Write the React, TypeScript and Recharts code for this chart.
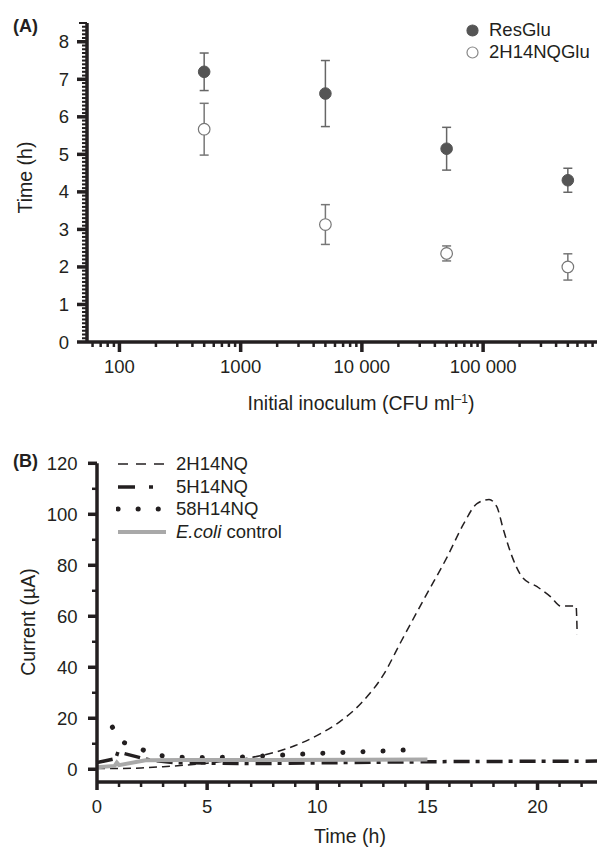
import React from 'react'
import { ScatterChart, Scatter, LineChart, Line, XAxis, YAxis, ErrorBar, Legend } from 'recharts'

const FONT = '"Liberation Sans", Arial, Helvetica, sans-serif'
const INK = '#231f20'

// ---- panel A: time to detection vs inoculum ----
const inoculum = [500, 5000, 50000, 500000]
const resGluTime = [7.2, 6.62, 5.15, 4.31]
const resGluErr = [0.5, 0.88, 0.57, 0.32]
const nqGluTime = [5.67, 3.13, 2.36, 2.0]
const nqGluErr = [0.69, 0.53, 0.2, 0.35]

const majorX = [100, 1000, 10000, 100000]
const majorXLabels = ['100', '1000', '10 000', '100 000']
const timeTicks = [0, 1, 2, 3, 4, 5, 6, 7, 8]

// ---- panel B: current vs time ----
const nq2 = [
  { t: 0, v: 0.3 }, { t: 1, v: 0.3 }, { t: 2, v: 0.5 }, { t: 3, v: 1 }, { t: 4, v: 1.6 },
  { t: 5, v: 2.4 }, { t: 6, v: 3.4 }, { t: 7, v: 4.6 }, { t: 8, v: 6.5 }, { t: 9, v: 9.3 },
  { t: 10, v: 13.3 }, { t: 11, v: 18.5 }, { t: 12, v: 26 }, { t: 13, v: 37 }, { t: 13.8, v: 50 },
  { t: 14.9, v: 67.6 }, { t: 15.9, v: 83.3 }, { t: 16.65, v: 96.3 }, { t: 17.25, v: 104.2 },
  { t: 17.8, v: 105.8 }, { t: 18.15, v: 103 }, { t: 18.45, v: 94 }, { t: 18.85, v: 83.3 },
  { t: 19.3, v: 75.4 }, { t: 20, v: 71.5 }, { t: 20.6, v: 67.6 }, { t: 21.05, v: 64 },
  { t: 21.75, v: 64 }, { t: 21.8, v: 53 },
]
const nq5 = [
  { t: 0, v: 2.6 }, { t: 0.85, v: 4.2 }, { t: 0.95, v: 6.8 }, { t: 2.4, v: 3.6 }, { t: 3.5, v: 2.6 },
  { t: 5, v: 2.4 }, { t: 7, v: 2.2 }, { t: 10, v: 2.5 }, { t: 13, v: 2.8 }, { t: 16, v: 3.0 },
  { t: 19, v: 3.1 }, { t: 22.7, v: 3.2 },
]
const nq58 = [
  { t: 0.7, v: 16.5 }, { t: 1.15, v: 10.7 }, { t: 1.95, v: 8.2 }, { t: 2.55, v: 5.6 }, { t: 3.5, v: 4.8 },
  { t: 5, v: 4.6 }, { t: 6.5, v: 4.8 }, { t: 8, v: 5.4 }, { t: 10, v: 6.2 }, { t: 11.7, v: 6.8 },
  { t: 12.6, v: 7.0 }, { t: 13.6, v: 7.4 }, { t: 14.5, v: 7.8 },
]
const ecoli = [
  { t: 0, v: 0.8 }, { t: 0.8, v: 1.3 }, { t: 0.9, v: 2.6 }, { t: 1.0, v: 1.6 }, { t: 2.2, v: 3.5 },
  { t: 4, v: 3.6 }, { t: 8, v: 3.6 }, { t: 12, v: 3.7 }, { t: 15, v: 3.8 },
]
const majorT = [0, 5, 10, 15, 20]
const majorI = [0, 20, 40, 60, 80, 100, 120]

// tick positions (minor ticks between the labelled ones)
const xTicksA: number[] = []
for (const d of [10, 100, 1000, 10000, 100000]) {
  for (let m = 1; m <= 9; m++) {
    const v = d * m
    if (v > 54 && v < 870000) xTicksA.push(v)
  }
}
const yTicksA = Array.from({ length: 86 }, (_, i) => Math.round(i) / 10)
const xTicksB = Array.from({ length: 23 }, (_, i) => i)
const yTicksB = Array.from({ length: 13 }, (_, i) => i * 10)

const resData = inoculum.map((x, i) => ({ x, y: resGluTime[i], err: resGluErr[i] }))
const nqData = inoculum.map((x, i) => ({ x, y: nqGluTime[i], err: nqGluErr[i] }))

const SERIES_B = [
  { name: '2H14NQ', data: nq2, stroke: INK, width: 1.5, dash: '8 5', cap: 'butt', curve: 'monotone' },
  { name: '5H14NQ', data: nq5, stroke: INK, width: 3.5, dash: '16 6 4 7', cap: 'butt', curve: 'linear' },
  { name: '58H14NQ', data: nq58, stroke: INK, width: 5, dash: '0.1 20', cap: 'round', curve: 'linear' },
  { name: 'E.coli control', data: ecoli, stroke: '#a9a9a9', width: 4, dash: undefined, cap: 'butt', curve: 'linear' },
]

const txt = { fontFamily: FONT, fontSize: 18.5, fill: INK }

function XTickA({ x, y, payload }: any) {
  const i = majorX.indexOf(payload.value)
  const major = i >= 0
  return (
    <g>
      <line x1={x} x2={x} y1={y} y2={y + (major ? 10 : 5)} stroke={INK} strokeWidth={major ? 3.5 : 2.5} />
      {major && (
        <text x={x} y={y + 31} textAnchor="middle" {...txt}>
          {majorXLabels[i]}
        </text>
      )}
    </g>
  )
}

function YTickA({ x, y, payload }: any) {
  const v = payload.value
  const major = timeTicks.includes(v)
  const len = major ? 10 : v === 8.5 ? 8 : 5
  return (
    <g>
      <line x1={x} x2={x - len} y1={y} y2={y} stroke={INK} strokeWidth={major ? 3.5 : 2} />
      {major && (
        <text x={x - 18} y={y + 6.5} textAnchor="end" {...txt}>
          {v}
        </text>
      )}
    </g>
  )
}

function XTickB({ x, y, payload }: any) {
  const major = majorT.includes(payload.value)
  return (
    <g>
      <line x1={x} x2={x} y1={y} y2={y + (major ? 8 : 5)} stroke={INK} strokeWidth={major ? 3.5 : 2.5} />
      {major && (
        <text x={x} y={y + 31} textAnchor="middle" {...txt}>
          {payload.value}
        </text>
      )}
    </g>
  )
}

function YTickB({ x, y, payload }: any) {
  const major = majorI.includes(payload.value)
  return (
    <g>
      <line x1={x} x2={x - (major ? 9 : 5)} y1={y} y2={y} stroke={INK} strokeWidth={major ? 3.5 : 2.5} />
      {major && (
        <text x={x - 19.5} y={y + 6.5} textAnchor="end" {...txt}>
          {payload.value}
        </text>
      )}
    </g>
  )
}

const FilledDot = ({ cx, cy }: any) => <circle cx={cx} cy={cy} r={5.8} fill="#555" stroke="#555" />
const OpenDot = ({ cx, cy }: any) => <circle cx={cx} cy={cy} r={5.8} fill="#fff" stroke="#777" strokeWidth={1.2} />

function LegendA() {
  const rows = [
    { label: 'ResGlu', fill: '#555', stroke: '#555' },
    { label: '2H14NQGlu', fill: '#fff', stroke: '#888' },
  ]
  return (
    <div style={{ fontFamily: FONT, fontSize: 18.5, color: INK }}>
      {rows.map((r) => (
        <div key={r.label} style={{ display: 'flex', alignItems: 'center', height: 22 }}>
          <svg width={13} height={13} style={{ marginRight: 10 }}>
            <circle cx={6.5} cy={6.5} r={5.5} fill={r.fill} stroke={r.stroke} strokeWidth={1.2} />
          </svg>
          <span>{r.label}</span>
        </div>
      ))}
    </div>
  )
}

function LegendB() {
  return (
    <div style={{ fontFamily: FONT, fontSize: 18.5, color: INK }}>
      {SERIES_B.map((s) => (
        <div key={s.name} style={{ display: 'flex', alignItems: 'center', height: 22.5 }}>
          <svg width={52} height={12} style={{ marginRight: 8 }}>
            <line
              x1={2}
              x2={50}
              y1={6}
              y2={6}
              stroke={s.stroke}
              strokeWidth={s.width}
              strokeDasharray={s.name === '58H14NQ' ? '0.1 20' : s.name === '5H14NQ' ? '17 14 4 20' : s.dash ? '10 8' : undefined}
              strokeLinecap={s.cap as any}
            />
          </svg>
          {s.name === 'E.coli control' ? (
            <span>
              <i>E.coli</i> control
            </span>
          ) : (
            <span>{s.name}</span>
          )}
        </div>
      ))}
    </div>
  )
}

export default function App() {
  return (
    <div style={{ position: 'absolute', left: 0, top: 0, width: 597, height: 848, background: '#fff' }}>
      <div style={{ position: 'absolute', left: 0, top: 0 }}>
        <ScatterChart width={597} height={430} margin={{ top: 23, right: 0, bottom: 0, left: 0 }}>
          <XAxis
            dataKey="x"
            type="number"
            scale="log"
            domain={[54, 870000]}
            allowDataOverflow
            ticks={xTicksA}
            interval={0}
            tick={<XTickA />}
            tickLine={false}
            tickSize={0}
            tickMargin={0}
            height={88}
            axisLine={{ stroke: INK, strokeWidth: 3.5 }}
          />
          <YAxis
            dataKey="y"
            type="number"
            domain={[0, 8.5]}
            allowDataOverflow
            ticks={yTicksA}
            interval={0}
            tick={<YTickA />}
            tickLine={false}
            tickSize={0}
            tickMargin={0}
            width={87}
            axisLine={{ stroke: INK, strokeWidth: 3.5 }}
          />
          <Legend
            layout="vertical"
            align="center"
            verticalAlign="middle"
            wrapperStyle={{ left: 466, top: 19, width: 140 }}
            content={() => <LegendA />}
          />
          <Scatter name="ResGlu" data={resData} shape={<FilledDot />} isAnimationActive={false}>
            <ErrorBar dataKey="err" direction="y" width={4.5} stroke="#666" strokeWidth={1.5} />
          </Scatter>
          <Scatter name="2H14NQGlu" data={nqData} shape={<OpenDot />} isAnimationActive={false}>
            <ErrorBar dataKey="err" direction="y" width={4.5} stroke="#777" strokeWidth={1.5} />
          </Scatter>
        </ScatterChart>
      </div>

      <div style={{ position: 'absolute', left: 0, top: 440 }}>
        <LineChart width={597} height={408} margin={{ top: 23.3, right: 0, bottom: 0, left: 0 }}>
          <XAxis
            dataKey="t"
            type="number"
            domain={[0, 22.7]}
            allowDataOverflow
            ticks={xTicksB}
            interval={0}
            tick={<XTickB />}
            tickLine={false}
            tickSize={0}
            tickMargin={0}
            height={66}
            axisLine={{ stroke: INK, strokeWidth: 3.5 }}
          />
          <YAxis
            type="number"
            domain={[-5, 120]}
            allowDataOverflow
            ticks={yTicksB}
            interval={0}
            tick={<YTickB />}
            tickLine={false}
            tickSize={0}
            tickMargin={0}
            width={97}
            axisLine={{ stroke: INK, strokeWidth: 3.5 }}
          />
          <Legend
            layout="vertical"
            align="center"
            verticalAlign="middle"
            wrapperStyle={{ left: 116, top: 12.75, width: 220 }}
            content={() => <LegendB />}
          />
          {SERIES_B.map((s) => (
            <Line
              key={s.name}
              name={s.name}
              data={s.data}
              dataKey="v"
              type={s.curve as any}
              stroke={s.stroke}
              strokeWidth={s.width}
              strokeDasharray={s.dash}
              strokeLinecap={s.cap as any}
              dot={false}
              activeDot={false}
              isAnimationActive={false}
            />
          ))}
        </LineChart>
      </div>

      <svg width={597} height={848} style={{ position: 'absolute', left: 0, top: 0, pointerEvents: 'none' }}>
        <text x={13} y={31.5} fontFamily={FONT} fontSize={18} fontWeight="bold" fill={INK}>(A)</text>
        <text x={13} y={466.5} fontFamily={FONT} fontSize={18} fontWeight="bold" fill={INK}>(B)</text>
        <text x={0} y={0} transform="translate(32,177.5) rotate(-90)" textAnchor="middle" {...txt} fontSize={19.5}>
          Time (h)
        </text>
        <text x={0} y={0} transform="translate(35,622) rotate(-90)" textAnchor="middle" {...txt} fontSize={19.5}>
          Current (µA)
        </text>
        <text x={361} y={410} textAnchor="middle" {...txt} fontSize={19.5}>
          Initial inoculum (CFU ml
          <tspan dy={-7} fontSize={12}>–1</tspan>
          <tspan dy={7}>)</tspan>
        </text>
        <text x={350} y={843} textAnchor="middle" {...txt} fontSize={19.5}>
          Time (h)
        </text>
      </svg>
    </div>
  )
}
